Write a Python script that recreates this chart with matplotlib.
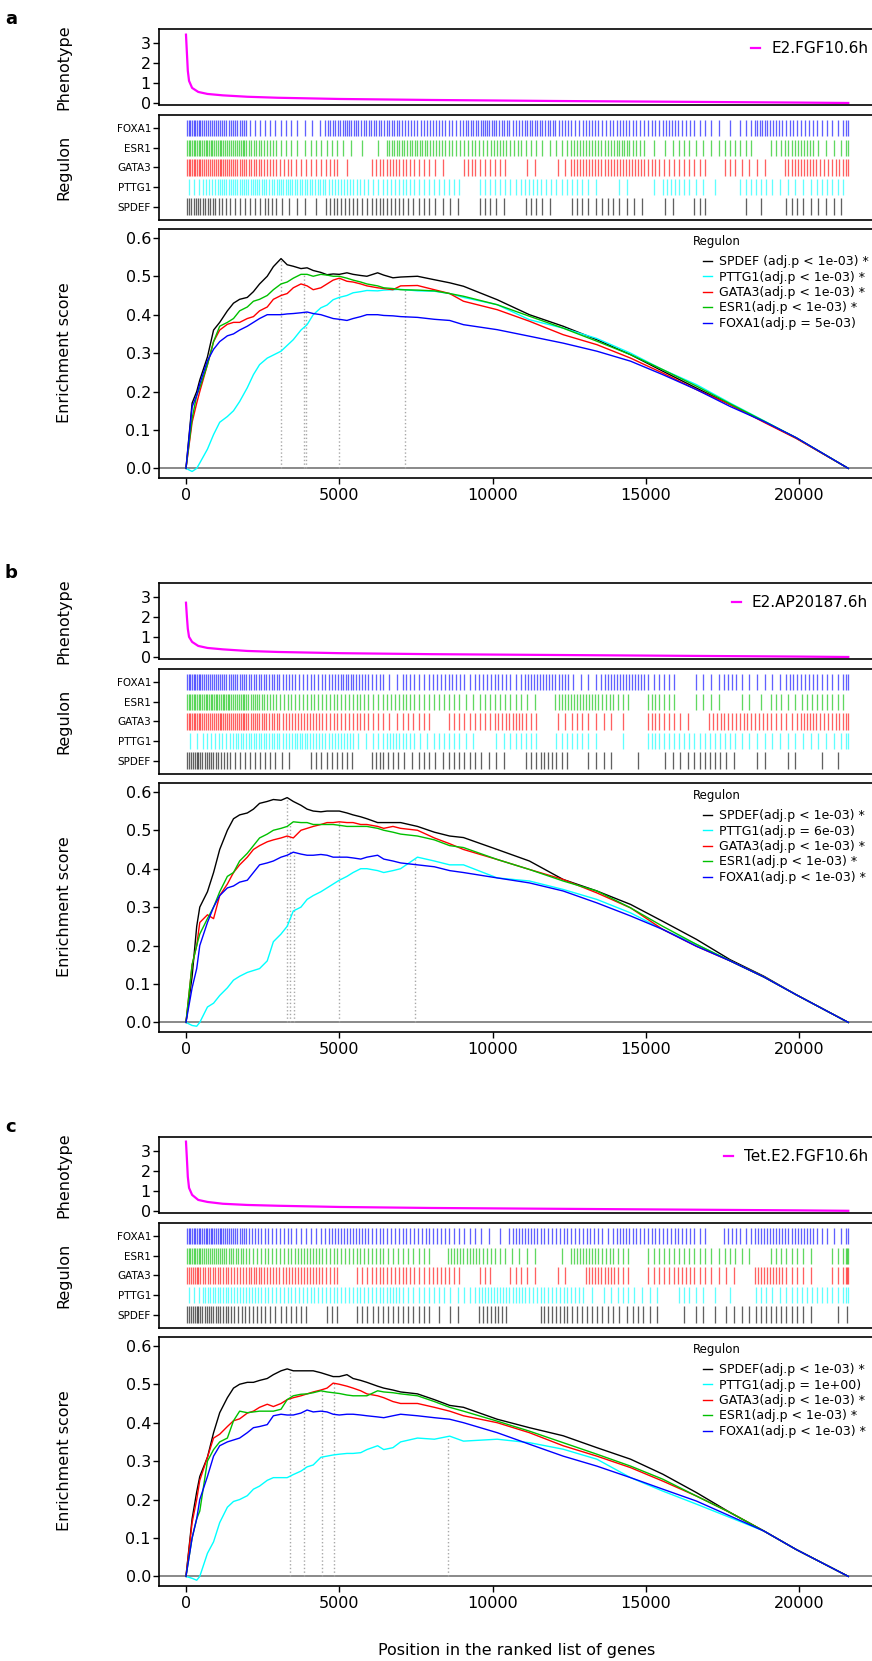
import numpy as np
import matplotlib
matplotlib.use("Agg")
import matplotlib.pyplot as plt

plt.rcParams['font.family'] = ['DejaVu Sans']

n_genes = 21600
bin_width = 500
regulons = ["FOXA1", "ESR1", "GATA3", "PTTG1", "SPDEF"]
legend_order = ["SPDEF", "PTTG1", "GATA3", "ESR1", "FOXA1"]
colors = {"FOXA1": "#0000ff", "ESR1": "#00c000", "GATA3": "#ff0000",
          "PTTG1": "#00ffff", "SPDEF": "#000000"}

panel_tags = ["a", "b", "c"]
phenotype_names = ["E2.FGF10.6h", "E2.AP20187.6h", "Tet.E2.FGF10.6h"]

# phenotype (ranked statistic) curves
pheno_pos = [0, 30, 60, 100, 200, 400, 700, 1200, 2000, 3000, 5000, 8000, 12000, 16000, 20000, 21600]
pheno_a = [3.4, 2.5, 1.6, 1.1, 0.75, 0.55, 0.45, 0.38, 0.31, 0.26, 0.2, 0.15, 0.1, 0.06, 0.02, 0.0]
pheno_b = [2.7, 2.0, 1.4, 1.0, 0.75, 0.55, 0.45, 0.38, 0.3, 0.25, 0.19, 0.14, 0.1, 0.06, 0.02, 0.0]
pheno_c = [3.45, 2.6, 1.7, 1.15, 0.8, 0.55, 0.45, 0.36, 0.3, 0.26, 0.2, 0.15, 0.11, 0.07, 0.03, 0.01]

# regulon hits: number of target genes per 500-gene bin of the ranked list
hits_a_foxa1 = [9, 8, 7, 7, 3, 3, 3, 2, 2, 6, 7, 6, 6, 6, 5, 5, 5, 4, 6, 7, 6, 5, 6, 6, 5, 4, 5, 4, 5, 4, 4, 5, 4, 3, 2, 1, 3, 6, 5, 4, 4, 3, 3, 2]
hits_a_esr1 = [9, 9, 8, 8, 6, 5, 3, 2, 3, 3, 2, 1, 1, 6, 6, 6, 5, 4, 4, 4, 5, 4, 3, 2, 3, 5, 5, 5, 6, 4, 1, 2, 3, 2, 2, 3, 3, 0, 3, 5, 5, 2, 2, 2]
hits_a_gata3 = [9, 8, 8, 7, 6, 5, 4, 3, 3, 4, 1, 0, 4, 5, 4, 3, 2, 0, 4, 3, 3, 0, 2, 0, 2, 5, 5, 5, 5, 5, 4, 3, 3, 3, 0, 3, 2, 2, 0, 5, 5, 4, 4, 2]
hits_a_pttg1 = [3, 5, 7, 7, 7, 6, 7, 6, 6, 5, 5, 4, 3, 4, 4, 3, 3, 3, 0, 3, 3, 3, 4, 3, 3, 3, 2, 0, 2, 0, 1, 4, 3, 2, 1, 0, 3, 3, 2, 2, 2, 3, 3, 0]
hits_a_spdef = [7, 6, 4, 3, 3, 4, 2, 2, 1, 4, 4, 3, 4, 4, 3, 3, 2, 2, 0, 3, 2, 0, 3, 2, 0, 3, 2, 3, 2, 2, 0, 2, 0, 3, 0, 0, 1, 1, 0, 3, 2, 2, 2, 0]

hits_b_foxa1 = [9, 8, 7, 7, 6, 6, 5, 4, 4, 5, 6, 5, 4, 2, 4, 3, 4, 4, 3, 4, 4, 3, 5, 5, 5, 2, 2, 5, 5, 5, 3, 3, 0, 2, 2, 4, 2, 2, 2, 4, 4, 3, 3, 2]
hits_b_esr1 = [9, 9, 9, 8, 7, 5, 4, 4, 4, 4, 4, 4, 3, 4, 4, 3, 3, 3, 2, 3, 3, 3, 2, 0, 5, 5, 5, 4, 3, 0, 4, 3, 0, 2, 2, 0, 2, 1, 3, 2, 3, 3, 3, 0]
hits_b_gata3 = [9, 8, 8, 8, 7, 6, 5, 5, 5, 4, 4, 4, 3, 2, 3, 3, 0, 3, 3, 3, 4, 5, 3, 0, 2, 3, 2, 2, 1, 0, 4, 3, 2, 0, 4, 4, 4, 4, 3, 3, 5, 4, 4, 2]
hits_b_pttg1 = [2, 4, 4, 6, 6, 6, 5, 6, 5, 5, 5, 2, 3, 5, 4, 2, 3, 3, 2, 0, 2, 3, 3, 0, 3, 3, 2, 0, 1, 0, 4, 3, 3, 3, 3, 3, 2, 2, 2, 2, 2, 2, 2, 2]
hits_b_spdef = [8, 7, 5, 3, 3, 3, 2, 0, 3, 3, 3, 0, 4, 3, 2, 3, 2, 3, 3, 2, 2, 0, 3, 4, 3, 0, 2, 2, 0, 1, 0, 2, 2, 3, 3, 2, 0, 2, 0, 2, 0, 1, 1, 0]

hits_c_foxa1 = [9, 9, 8, 7, 5, 4, 4, 3, 3, 5, 5, 5, 4, 4, 4, 4, 4, 3, 3, 2, 1, 5, 5, 4, 4, 4, 4, 3, 5, 4, 4, 4, 4, 3, 0, 4, 3, 5, 5, 5, 5, 3, 2, 2]
hits_c_esr1 = [9, 8, 7, 6, 4, 4, 4, 5, 5, 4, 4, 4, 4, 3, 3, 3, 0, 5, 5, 4, 3, 2, 2, 0, 1, 5, 5, 4, 3, 0, 3, 3, 3, 3, 2, 3, 2, 0, 3, 3, 2, 0, 3, 3]
hits_c_gata3 = [8, 6, 6, 5, 6, 5, 5, 5, 5, 4, 0, 3, 4, 4, 4, 3, 4, 3, 0, 3, 0, 3, 2, 0, 2, 0, 5, 5, 3, 0, 3, 3, 4, 3, 2, 2, 0, 5, 5, 3, 2, 0, 3, 3]
hits_c_pttg1 = [3, 6, 6, 5, 5, 4, 4, 4, 4, 4, 4, 4, 4, 5, 3, 3, 3, 2, 3, 5, 5, 5, 4, 4, 4, 4, 1, 2, 3, 2, 2, 0, 3, 2, 1, 1, 0, 3, 2, 3, 3, 3, 3, 2]
hits_c_spdef = [8, 7, 6, 4, 4, 3, 3, 3, 0, 3, 0, 3, 3, 3, 3, 3, 1, 2, 0, 4, 4, 0, 0, 4, 4, 3, 3, 3, 2, 3, 2, 0, 1, 2, 1, 2, 2, 3, 3, 3, 2, 0, 1, 1]

# running enrichment scores
es_pos = [0, 200, 350, 450, 700, 900, 1100, 1350, 1550, 1750,
          2000, 2200, 2400, 2650, 2850, 3100, 3300, 3500, 3750, 3950,
          4150, 4400, 4600, 4800, 5000, 5250, 5450, 5700, 5900, 6250,
          6450, 6750, 7000, 7550, 8100, 8600, 9050, 10150, 11200, 12300,
          13400, 14500, 15550, 16650, 17750, 18850, 19900, 21600]

es_a_spdef = [0, 0.17, 0.2, 0.23, 0.29, 0.36, 0.38, 0.41, 0.43, 0.44,
              0.445, 0.46, 0.48, 0.5, 0.525, 0.546, 0.53, 0.526, 0.52, 0.522,
              0.515, 0.51, 0.504, 0.506, 0.505, 0.509, 0.505, 0.502, 0.5, 0.509,
              0.503, 0.496, 0.498, 0.5, 0.491, 0.483, 0.474, 0.439, 0.40, 0.37,
              0.335, 0.296, 0.253, 0.209, 0.166, 0.122, 0.079, 0.0]
es_a_pttg1 = [0, -0.008, 0.0, 0.014, 0.05, 0.088, 0.12, 0.135, 0.15, 0.174,
              0.21, 0.244, 0.27, 0.287, 0.295, 0.305, 0.32, 0.335, 0.36, 0.374,
              0.40, 0.418, 0.425, 0.439, 0.445, 0.45, 0.457, 0.46, 0.463, 0.462,
              0.464, 0.465, 0.466, 0.462, 0.461, 0.455, 0.445, 0.426, 0.387, 0.365,
              0.338, 0.30, 0.257, 0.218, 0.17, 0.124, 0.079, 0.0]
es_a_gata3 = [0, 0.12, 0.17, 0.2, 0.27, 0.33, 0.36, 0.375, 0.38, 0.38,
              0.39, 0.395, 0.41, 0.42, 0.44, 0.45, 0.455, 0.47, 0.48, 0.475,
              0.465, 0.47, 0.48, 0.49, 0.495, 0.487, 0.485, 0.48, 0.475, 0.47,
              0.468, 0.465, 0.475, 0.476, 0.465, 0.455, 0.435, 0.413, 0.383, 0.348,
              0.322, 0.287, 0.248, 0.205, 0.166, 0.12, 0.078, 0.0]
es_a_esr1 = [0, 0.13, 0.19, 0.21, 0.27, 0.33, 0.37, 0.38, 0.39, 0.41,
             0.42, 0.435, 0.44, 0.45, 0.465, 0.48, 0.485, 0.495, 0.505, 0.505,
             0.5, 0.505, 0.503, 0.5, 0.5, 0.495, 0.49, 0.485, 0.48, 0.475,
             0.47, 0.468, 0.465, 0.464, 0.462, 0.455, 0.448, 0.426, 0.396, 0.365,
             0.331, 0.296, 0.257, 0.214, 0.168, 0.123, 0.08, 0.0]
es_a_foxa1 = [0, 0.16, 0.19, 0.22, 0.28, 0.31, 0.33, 0.345, 0.35, 0.36,
              0.37, 0.38, 0.39, 0.40, 0.40, 0.40, 0.402, 0.403, 0.405, 0.407,
              0.403, 0.40, 0.395, 0.39, 0.388, 0.385, 0.39, 0.395, 0.40, 0.40,
              0.398, 0.397, 0.395, 0.393, 0.388, 0.385, 0.374, 0.361, 0.344, 0.326,
              0.305, 0.279, 0.244, 0.205, 0.161, 0.122, 0.08, 0.0]

es_b_spdef = [0, 0.12, 0.25, 0.3, 0.34, 0.39, 0.45, 0.5, 0.53, 0.54,
              0.545, 0.555, 0.57, 0.575, 0.58, 0.578, 0.585, 0.575, 0.565, 0.555,
              0.55, 0.548, 0.55, 0.55, 0.55, 0.545, 0.54, 0.535, 0.53, 0.52,
              0.52, 0.52, 0.52, 0.51, 0.495, 0.485, 0.481, 0.45, 0.42, 0.372,
              0.342, 0.307, 0.263, 0.216, 0.163, 0.12, 0.072, 0.0]
es_b_pttg1 = [0, -0.008, -0.01, 0.0, 0.04, 0.05, 0.07, 0.09, 0.11, 0.12,
              0.13, 0.135, 0.14, 0.16, 0.21, 0.23, 0.25, 0.29, 0.3, 0.32,
              0.33, 0.34, 0.35, 0.36, 0.37, 0.38, 0.39, 0.40, 0.40, 0.395,
              0.39, 0.395, 0.40, 0.43, 0.42, 0.41, 0.41, 0.376, 0.368, 0.346,
              0.32, 0.285, 0.242, 0.203, 0.16, 0.118, 0.072, 0.0]
es_b_gata3 = [0, 0.15, 0.2, 0.26, 0.28, 0.27, 0.33, 0.36, 0.39, 0.41,
              0.43, 0.45, 0.46, 0.47, 0.475, 0.48, 0.485, 0.48, 0.5, 0.505,
              0.51, 0.515, 0.52, 0.52, 0.522, 0.52, 0.52, 0.515, 0.515, 0.51,
              0.505, 0.51, 0.505, 0.5, 0.48, 0.465, 0.45, 0.424, 0.398, 0.372,
              0.337, 0.298, 0.242, 0.198, 0.16, 0.118, 0.072, 0.0]
es_b_esr1 = [0, 0.15, 0.2, 0.23, 0.27, 0.3, 0.34, 0.38, 0.39, 0.42,
             0.44, 0.46, 0.48, 0.49, 0.5, 0.505, 0.51, 0.522, 0.52, 0.52,
             0.515, 0.515, 0.515, 0.515, 0.513, 0.51, 0.51, 0.51, 0.51, 0.505,
             0.5, 0.495, 0.49, 0.485, 0.475, 0.46, 0.455, 0.424, 0.398, 0.368,
             0.342, 0.298, 0.25, 0.203, 0.16, 0.118, 0.072, 0.0]
es_b_foxa1 = [0, 0.09, 0.14, 0.2, 0.26, 0.3, 0.33, 0.35, 0.355, 0.365,
              0.37, 0.39, 0.41, 0.415, 0.42, 0.43, 0.435, 0.443, 0.438, 0.435,
              0.435, 0.437, 0.435, 0.43, 0.43, 0.43, 0.428, 0.425, 0.43, 0.435,
              0.425, 0.42, 0.415, 0.41, 0.405, 0.395, 0.39, 0.376, 0.363, 0.342,
              0.311, 0.277, 0.242, 0.198, 0.16, 0.118, 0.072, 0.0]

es_c_spdef = [0, 0.15, 0.22, 0.26, 0.31, 0.374, 0.426, 0.465, 0.49, 0.5,
              0.505, 0.505, 0.51, 0.515, 0.525, 0.535, 0.54, 0.535, 0.535, 0.535,
              0.535, 0.53, 0.525, 0.52, 0.52, 0.525, 0.515, 0.51, 0.505, 0.495,
              0.49, 0.485, 0.48, 0.475, 0.46, 0.445, 0.44, 0.409, 0.387, 0.366,
              0.335, 0.305, 0.266, 0.218, 0.166, 0.118, 0.07, 0.0]
es_c_pttg1 = [0, -0.005, -0.01, 0.0, 0.06, 0.09, 0.14, 0.18, 0.195, 0.2,
              0.21, 0.227, 0.235, 0.25, 0.257, 0.257, 0.257, 0.265, 0.274, 0.285,
              0.29, 0.31, 0.313, 0.316, 0.318, 0.32, 0.32, 0.322, 0.33, 0.34,
              0.33, 0.335, 0.35, 0.36, 0.357, 0.365, 0.352, 0.357, 0.348, 0.331,
              0.305, 0.257, 0.222, 0.188, 0.153, 0.118, 0.07, 0.0]
es_c_gata3 = [0, 0.14, 0.2, 0.25, 0.31, 0.36, 0.37, 0.39, 0.405, 0.41,
              0.425, 0.43, 0.44, 0.448, 0.442, 0.45, 0.46, 0.465, 0.47, 0.475,
              0.48, 0.485, 0.49, 0.503, 0.5, 0.495, 0.49, 0.483, 0.475, 0.47,
              0.465, 0.455, 0.45, 0.45, 0.44, 0.43, 0.418, 0.4, 0.374, 0.34,
              0.313, 0.283, 0.248, 0.209, 0.166, 0.118, 0.07, 0.0]
es_c_esr1 = [0, 0.1, 0.15, 0.17, 0.3, 0.33, 0.35, 0.36, 0.405, 0.43,
             0.426, 0.428, 0.43, 0.43, 0.43, 0.435, 0.46, 0.47, 0.474, 0.475,
             0.478, 0.483, 0.48, 0.478, 0.476, 0.472, 0.47, 0.47, 0.47, 0.483,
             0.48, 0.478, 0.475, 0.47, 0.455, 0.44, 0.43, 0.404, 0.378, 0.348,
             0.318, 0.287, 0.253, 0.209, 0.166, 0.118, 0.07, 0.0]
es_c_foxa1 = [0, 0.1, 0.15, 0.2, 0.26, 0.313, 0.34, 0.35, 0.355, 0.36,
              0.374, 0.387, 0.39, 0.395, 0.418, 0.422, 0.42, 0.42, 0.425, 0.433,
              0.428, 0.43, 0.428, 0.422, 0.42, 0.422, 0.422, 0.42, 0.418, 0.415,
              0.413, 0.418, 0.422, 0.418, 0.413, 0.409, 0.4, 0.374, 0.344, 0.313,
              0.287, 0.257, 0.227, 0.196, 0.157, 0.118, 0.07, 0.0]

# rank of the maximum enrichment (leading edge), per regulon
peaks_a = {"SPDEF": 3100, "ESR1": 3860, "FOXA1": 3915, "GATA3": 5000, "PTTG1": 7150}
peaks_b = {"SPDEF": 3290, "ESR1": 3400, "FOXA1": 3520, "GATA3": 4980, "PTTG1": 7480}
peaks_c = {"SPDEF": 3380, "FOXA1": 3860, "ESR1": 4435, "GATA3": 4840, "PTTG1": 8550}

labels_a = ["SPDEF (adj.p < 1e-03) *", "PTTG1(adj.p < 1e-03) *", "GATA3(adj.p < 1e-03) *",
            "ESR1(adj.p < 1e-03) *", "FOXA1(adj.p = 5e-03)"]
labels_b = ["SPDEF(adj.p < 1e-03) *", "PTTG1(adj.p = 6e-03)", "GATA3(adj.p < 1e-03) *",
            "ESR1(adj.p < 1e-03) *", "FOXA1(adj.p < 1e-03) *"]
labels_c = ["SPDEF(adj.p < 1e-03) *", "PTTG1(adj.p = 1e+00)", "GATA3(adj.p < 1e-03) *",
            "ESR1(adj.p < 1e-03) *", "FOXA1(adj.p < 1e-03) *"]

panels = [
    dict(pheno=pheno_a, peaks=peaks_a, labels=labels_a,
         hits={"FOXA1": hits_a_foxa1, "ESR1": hits_a_esr1, "GATA3": hits_a_gata3,
               "PTTG1": hits_a_pttg1, "SPDEF": hits_a_spdef},
         es={"FOXA1": es_a_foxa1, "ESR1": es_a_esr1, "GATA3": es_a_gata3,
             "PTTG1": es_a_pttg1, "SPDEF": es_a_spdef}),
    dict(pheno=pheno_b, peaks=peaks_b, labels=labels_b,
         hits={"FOXA1": hits_b_foxa1, "ESR1": hits_b_esr1, "GATA3": hits_b_gata3,
               "PTTG1": hits_b_pttg1, "SPDEF": hits_b_spdef},
         es={"FOXA1": es_b_foxa1, "ESR1": es_b_esr1, "GATA3": es_b_gata3,
             "PTTG1": es_b_pttg1, "SPDEF": es_b_spdef}),
    dict(pheno=pheno_c, peaks=peaks_c, labels=labels_c,
         hits={"FOXA1": hits_c_foxa1, "ESR1": hits_c_esr1, "GATA3": hits_c_gata3,
               "PTTG1": hits_c_pttg1, "SPDEF": hits_c_spdef},
         es={"FOXA1": es_c_foxa1, "ESR1": es_c_esr1, "GATA3": es_c_gata3,
             "PTTG1": es_c_pttg1, "SPDEF": es_c_spdef}),
]

W, H = 872, 1661
ax_left, ax_right = 159.3, 876.5
panel_offsets = [0, 554, 1108]
xlim = (-870, 22520)
fs = 11.5


def box(top, bottom):
    """pixel rows (from top) -> figure rectangle"""
    return [ax_left / W, 1 - bottom / H, (ax_right - ax_left) / W, (bottom - top) / H]


def hit_positions(counts):
    pos = []
    for k, c in enumerate(counts):
        lo = k * bin_width
        hi = min(lo + bin_width, n_genes)
        for j in range(c):
            pos.append(lo + (j + 0.5) * (hi - lo) / c)
    return np.array(pos)


def style(ax):
    for s in ax.spines.values():
        s.set_linewidth(1.2)
    ax.tick_params(direction='out', length=4, width=1, labelsize=fs, pad=2)
    ax.set_xlim(xlim)


fig = plt.figure(figsize=(W / 100, H / 100), dpi=100)

for i, p in enumerate(panels):
    o = panel_offsets[i]
    fig.text(11 / W, 1 - (19 + o) / H, panel_tags[i], fontsize=13, fontweight='bold',
             ha='center', va='center')

    # phenotype
    ax_p = fig.add_axes(box(29 + o, 105 + o))
    style(ax_p)
    ax_p.plot(pheno_pos, p["pheno"], color='#ff00ff', lw=1.6, label=phenotype_names[i])
    ax_p.set_ylim(-0.1, 3.68)
    ax_p.set_yticks([0, 1, 2, 3])
    ax_p.set_xticks([])
    ax_p.legend(loc='upper right', bbox_to_anchor=(868 / W, 1 - (41 + o) / H),
                bbox_transform=fig.transFigure, frameon=False, fontsize=11,
                handlelength=0.6, handletextpad=0.7, borderpad=0, borderaxespad=0)
    fig.text(64 / W, 1 - (67 + o) / H, "Phenotype", rotation=90, fontsize=fs,
             ha='center', va='center')

    # regulon hits
    ax_r = fig.add_axes(box(114.5 + o, 220 + o))
    style(ax_r)
    for r, reg in enumerate(regulons):
        row = len(regulons) - r
        ax_r.vlines(hit_positions(p["hits"][reg]), row - 0.42, row + 0.42,
                    colors=colors[reg], alpha=0.62, linewidth=0.95)
    ax_r.set_ylim(0.32, 5.70)
    ax_r.set_yticks(range(len(regulons), 0, -1))
    ax_r.set_yticklabels(regulons, fontsize=7.5)
    ax_r.set_xticks([])
    fig.text(64 / W, 1 - (167 + o) / H, "Regulon", rotation=90, fontsize=fs,
             ha='center', va='center')

    # enrichment score
    ax_e = fig.add_axes(box(229 + o, 478 + o))
    style(ax_e)
    ax_e.tick_params(axis='x', pad=3)
    ax_e.axhline(0, color='#808080', lw=1.3, zorder=1)
    for reg, pos in p["peaks"].items():
        top = np.interp(pos, es_pos, p["es"][reg])
        ax_e.vlines(pos, 0, top, colors='#a8a8a8', linestyles=':', lw=1, zorder=1)
    handles = []
    for reg in legend_order:
        h, = ax_e.plot(es_pos, p["es"][reg], color=colors[reg], lw=1.0, zorder=2)
        handles.append(h)
    ax_e.set_ylim(-0.025, 0.623)
    ax_e.set_yticks([0, 0.1, 0.2, 0.3, 0.4, 0.5, 0.6])
    ax_e.set_yticklabels(["%.1f" % v for v in [0, 0.1, 0.2, 0.3, 0.4, 0.5, 0.6]])
    ax_e.set_xticks([0, 5000, 10000, 15000, 20000])
    ax_e.set_xticklabels(["0", "5000", "10000", "15000", "20000"])
    ax_e.legend(handles, p["labels"], loc='upper left',
                bbox_to_anchor=(703 / W, 1 - (255 + o) / H), bbox_transform=fig.transFigure,
                frameon=False, fontsize=9, handlelength=0.75, handletextpad=0.55,
                labelspacing=0.2, borderpad=0, borderaxespad=0)
    fig.text(693 / W, 1 - (241 + o) / H, "Regulon", fontsize=8.5, ha='left', va='center')
    fig.text(64 / W, 1 - (353 + o) / H, "Enrichment score", rotation=90, fontsize=fs,
             ha='center', va='center')

fig.text(517 / W, 1 - 1650 / H, "Position in the ranked list of genes", fontsize=fs,
         ha='center', va='center')

fig.savefig("out.png", dpi=100)
